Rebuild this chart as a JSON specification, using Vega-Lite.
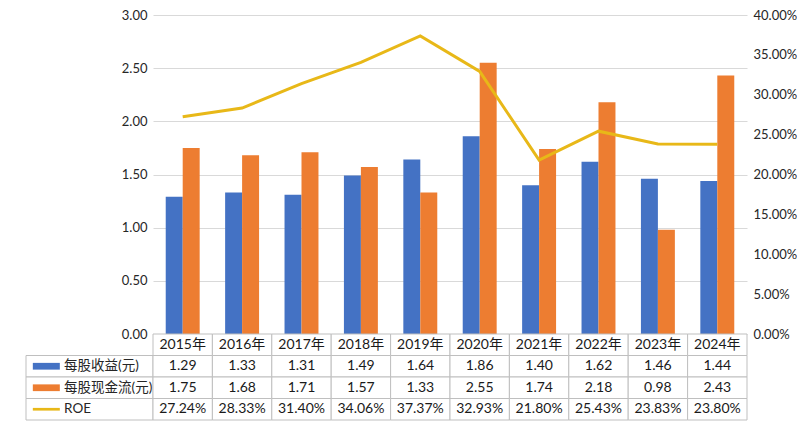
{
  "$schema": "https://vega.github.io/schema/vega-lite/v6.json",
  "padding": {"left": 25, "top": 9, "right": 0, "bottom": 0},
  "background": "white",
  "columns": 2,
  "spacing": 0,
  "bounds": "flush",
  "config": {
    "font": "Lato, Noto Sans CJK SC",
    "view": {"stroke": null},
    "axis": {"labelFontSize": 13, "labelColor": "#262626"}
  },
  "datasets": {
    "main": [
      {"year": "2015年", "每股收益(元)": 1.29, "每股现金流(元)": 1.75, "ROE": 0.2724},
      {"year": "2016年", "每股收益(元)": 1.33, "每股现金流(元)": 1.68, "ROE": 0.2833},
      {"year": "2017年", "每股收益(元)": 1.31, "每股现金流(元)": 1.71, "ROE": 0.3140},
      {"year": "2018年", "每股收益(元)": 1.49, "每股现金流(元)": 1.57, "ROE": 0.3406},
      {"year": "2019年", "每股收益(元)": 1.64, "每股现金流(元)": 1.33, "ROE": 0.3737},
      {"year": "2020年", "每股收益(元)": 1.86, "每股现金流(元)": 2.55, "ROE": 0.3293},
      {"year": "2021年", "每股收益(元)": 1.40, "每股现金流(元)": 1.74, "ROE": 0.2180},
      {"year": "2022年", "每股收益(元)": 1.62, "每股现金流(元)": 2.18, "ROE": 0.2543},
      {"year": "2023年", "每股收益(元)": 1.46, "每股现金流(元)": 0.98, "ROE": 0.2383},
      {"year": "2024年", "每股收益(元)": 1.44, "每股现金流(元)": 2.43, "ROE": 0.2380}
    ],
    "rows": [
      {"series": "每股收益(元)"},
      {"series": "每股现金流(元)"},
      {"series": "ROE"}
    ],
    "blank": [{"series": ""}]
  },
  "concat": [
    {
      "width": 127,
      "height": 319,
      "data": {"name": "blank"},
      "mark": {"type": "text"},
      "encoding": {"text": {"field": "series"}}
    },
    {
      "width": 594,
      "height": 319,
      "data": {"name": "main"},
      "layer": [
        {
          "transform": [{"fold": ["每股收益(元)", "每股现金流(元)"], "as": ["series", "value"]}],
          "mark": {"type": "bar"},
          "encoding": {
            "x": {"field": "year", "type": "nominal", "axis": null, "scale": {"paddingInner": 0, "paddingOuter": 0}},
            "xOffset": {"field": "series", "type": "nominal", "scale": {"domain": ["每股收益(元)", "每股现金流(元)"], "paddingInner": 0, "paddingOuter": 0.75}},
            "y": {
              "field": "value", "type": "quantitative",
              "scale": {"domain": [0, 3], "nice": false},
              "axis": {"values": [0, 0.5, 1, 1.5, 2, 2.5, 3], "format": ".2f", "grid": true, "gridColor": "#D9D9D9", "domain": false, "ticks": false, "labelPadding": 6, "title": null}
            },
            "color": {"field": "series", "type": "nominal", "scale": {"domain": ["每股收益(元)", "每股现金流(元)", "ROE"], "range": ["#4472C4", "#ED7D31", "#E8B818"]}, "legend": null}
          }
        },
        {
          "mark": {"type": "line", "color": "#E8B818", "strokeWidth": 3},
          "encoding": {
            "x": {"field": "year", "type": "nominal", "axis": null},
            "y": {
              "field": "ROE", "type": "quantitative",
              "scale": {"domain": [0, 0.4], "nice": false},
              "axis": {"orient": "right", "values": [0, 0.05, 0.1, 0.15, 0.2, 0.25, 0.3, 0.35, 0.4], "format": ".2%", "grid": false, "domain": false, "ticks": false, "labelPadding": 6, "title": null}
            }
          }
        }
      ],
      "resolve": {"scale": {"y": "independent"}}
    },
    {
      "width": 127,
      "height": 86,
      "data": {"name": "rows"},
      "layer": [
        {
          "mark": {"type": "rect", "fill": "white", "stroke": "#BFBFBF"},
          "encoding": {
            "y": {"field": "series", "type": "nominal", "axis": null, "scale": {"domain": ["hdr", "每股收益(元)", "每股现金流(元)", "ROE"], "padding": 0}}
          }
        },
        {
          "mark": {"type": "point", "filled": true, "opacity": 1},
          "encoding": {
            "x": {"datum": 0.16, "type": "quantitative", "scale": {"domain": [0, 1]}, "axis": null},
            "y": {"field": "series", "type": "nominal", "axis": null},
            "shape": {"field": "series", "type": "nominal", "scale": {"domain": ["每股收益(元)", "每股现金流(元)", "ROE"], "range": ["M-1,-0.25H1V0.25H-1Z", "M-1,-0.25H1V0.25H-1Z", "M-1,-0.1H1V0.1H-1Z"]}, "legend": null},
            "color": {"field": "series", "type": "nominal", "scale": {"domain": ["每股收益(元)", "每股现金流(元)", "ROE"], "range": ["#4472C4", "#ED7D31", "#E8B818"]}, "legend": null},
            "size": {"value": 729}
          }
        },
        {
          "mark": {"type": "text", "align": "left", "fontSize": 13.5, "color": "#262626"},
          "encoding": {
            "x": {"datum": 0.3, "type": "quantitative"},
            "y": {"field": "series", "type": "nominal"},
            "text": {"field": "series"}
          }
        }
      ]
    },
    {
      "width": 594,
      "height": 86,
      "data": {"name": "main"},
      "layer": [
        {
          "transform": [{"fold": ["每股收益(元)", "每股现金流(元)", "ROE"], "as": ["row", "value"]}],
          "mark": {"type": "rect", "fill": "white", "stroke": "#BFBFBF"},
          "encoding": {
            "x": {"field": "year", "type": "nominal", "axis": null, "scale": {"padding": 0}},
            "y": {"field": "row", "type": "nominal", "axis": null, "scale": {"domain": ["hdr", "每股收益(元)", "每股现金流(元)", "ROE"], "padding": 0}}
          }
        },
        {
          "mark": {"type": "rect", "fill": "white", "stroke": "#BFBFBF"},
          "encoding": {
            "x": {"field": "year", "type": "nominal"},
            "y": {"datum": "hdr", "type": "nominal"}
          }
        },
        {
          "transform": [{"fold": ["每股收益(元)", "每股现金流(元)"], "as": ["row", "value"]}],
          "mark": {"type": "text", "fontSize": 14, "color": "#1a1a1a"},
          "encoding": {
            "x": {"field": "year", "type": "nominal"},
            "y": {"field": "row", "type": "nominal"},
            "text": {"field": "value", "type": "quantitative", "format": ".2f"}
          }
        },
        {
          "mark": {"type": "text", "fontSize": 14, "color": "#1a1a1a"},
          "encoding": {
            "x": {"field": "year", "type": "nominal"},
            "y": {"datum": "ROE", "type": "nominal"},
            "text": {"field": "ROE", "type": "quantitative", "format": ".2%"}
          }
        },
        {
          "mark": {"type": "text", "fontSize": 14, "color": "#1a1a1a"},
          "encoding": {
            "x": {"field": "year", "type": "nominal"},
            "y": {"datum": "hdr", "type": "nominal"},
            "text": {"field": "year"}
          }
        }
      ]
    }
  ]
}
